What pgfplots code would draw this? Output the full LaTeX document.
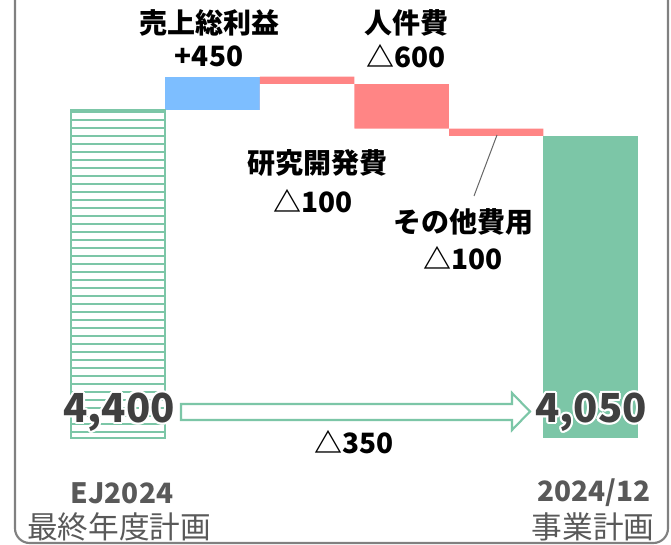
\documentclass[border=0pt]{standalone}
\usepackage{pgfplots}
\pgfplotsset{compat=1.18}
\usepackage{fontspec}
\setmainfont{Noto Sans CJK JP}
\usetikzlibrary{patterns.meta}
\definecolor{grn}{HTML}{7CC6A7}
\definecolor{blu}{HTML}{7DBEFF}
\definecolor{rd}{HTML}{FF8585}
\definecolor{frm}{HTML}{808080}
\definecolor{num}{HTML}{404040}
\definecolor{lab}{HTML}{595959}
\newcommand\lblfont{\fontsize{21}{24}\selectfont\bfseries}
\newcommand\bigfont{\fontsize{30}{34}\selectfont\bfseries}
\newcommand\botfont{\fontsize{23}{26}\selectfont}
\begin{document}
\begin{tikzpicture}[x=0.75pt,y=0.75pt]
\path[use as bounding box] (0,0) rectangle (671,544);
\begin{scope}
\clip (0,0) rectangle (671,544);
\draw[frm, line width=1.6pt, rounded corners=11pt] (15,1) rectangle (668,600);
\end{scope}
\begin{axis}[at={(75,142.5)}, anchor=south west, width=425.25pt, height=328.5pt,
  scale only axis, xmin=-0.5, xmax=5.5, ymin=0, ymax=5880,
  hide axis, xtick=\empty, ytick=\empty, clip=false]
% floating bars: coloured top, white base overlay
\addplot[ybar, bar width=1, bar shift=0pt, fill=blu, draw=none] coordinates {(1,4850)};
\addplot[ybar, bar width=1, bar shift=0pt, fill=rd, draw=none] coordinates {(2,4850) (3,4750) (4,4150)};
\addplot[ybar, bar width=1, bar shift=0pt, fill=white, draw=none] coordinates {(1,4400) (2,4750) (3,4150) (4,4050)};
% start and end bars
\addplot[ybar, bar width=1, bar shift=0pt, draw=grn, line width=1.5pt,
  pattern={Lines[angle=0,distance=6pt,line width=1.6pt]}, pattern color=grn] coordinates {(0,4400)};
\addplot[ybar, bar width=1, bar shift=0pt, fill=grn, draw=none] coordinates {(5,4050)};
\end{axis}
% leader line
\draw[black!60, line width=0.75pt] (474,348) -- (497,409);
% arrow
\draw[grn, line width=1.6pt, fill=white] (181,124) -- (512,124) -- (512,114) -- (530,132.5) -- (512,151) -- (512,140) -- (181,140) -- cycle;
% labels
\node[font=\lblfont, inner sep=0] at (209,521) {売上総利益};
\node[font=\lblfont, inner sep=0] at (209,488) {+450};
\node[font=\lblfont, inner sep=0] at (406,521) {人件費};
\node[font=\lblfont, inner sep=0] at (406,488) {△600};
\node[font=\lblfont, inner sep=0] at (317,381) {研究開発費};
\node[font=\lblfont, inner sep=0] at (313,343) {△100};
\node[font=\lblfont, inner sep=0] at (463,322) {その他費用};
\node[font=\lblfont, inner sep=0] at (463,286) {△100};
\node[font=\lblfont, inner sep=0] at (354,102) {△350};
% big numbers with halo
\foreach \a in {0,30,...,330}{
  \node[font=\bigfont, text=white, inner sep=0] at ([shift={(\a:1.6pt)}]119,132) {4,400};
  \node[font=\bigfont, text=white, inner sep=0] at ([shift={(\a:1.6pt)}]591,132) {4,050};
}
\node[font=\bigfont, text=num, inner sep=0] at (119,132) {4,400};
\node[font=\bigfont, text=num, inner sep=0] at (591,132) {4,050};
% bottom labels
\node[font=\fontsize{21}{24}\selectfont\bfseries, text=lab, inner sep=0] at (122,51) {EJ2024};
\node[font=\botfont, text=lab, inner sep=0] at (119,17) {最終年度計画};
\node[font=\fontsize{21}{24}\selectfont\bfseries, text=lab, inner sep=0] at (594,51) {2024/12};
\node[font=\botfont, text=lab, inner sep=0] at (593,17) {事業計画};
\end{tikzpicture}
\end{document}
